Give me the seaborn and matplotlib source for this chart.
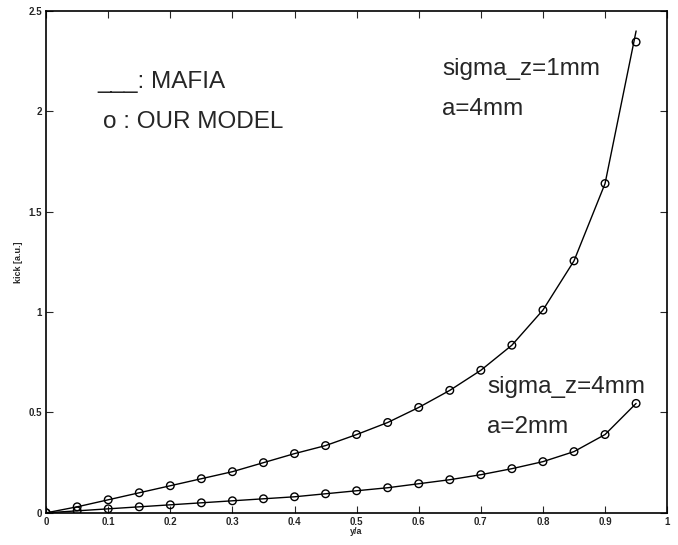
import matplotlib
matplotlib.use("Agg")
import matplotlib.pyplot as plt
import seaborn as sns
import pandas as pd

# y/a sample positions
y_over_a = [0.0, 0.05, 0.1, 0.15, 0.2, 0.25, 0.3, 0.35, 0.4, 0.45, 0.5,
            0.55, 0.6, 0.65, 0.7, 0.75, 0.8, 0.85, 0.9, 0.95]

# sigma_z=1mm, a=4mm
mafia_1mm = [0.0, 0.03, 0.065, 0.10, 0.135, 0.17, 0.205, 0.25, 0.295, 0.335, 0.39,
             0.45, 0.525, 0.61, 0.71, 0.835, 1.01, 1.255, 1.64, 2.40]
model_1mm = [0.0, 0.03, 0.065, 0.10, 0.135, 0.17, 0.205, 0.25, 0.295, 0.335, 0.39,
             0.45, 0.525, 0.61, 0.71, 0.835, 1.01, 1.255, 1.64, 2.345]

# sigma_z=4mm, a=2mm
mafia_4mm = [0.0, 0.01, 0.02, 0.03, 0.04, 0.05, 0.06, 0.07, 0.08, 0.095, 0.11,
             0.125, 0.145, 0.165, 0.19, 0.22, 0.255, 0.305, 0.39, 0.545]
model_4mm = [0.0, 0.01, 0.02, 0.03, 0.04, 0.05, 0.06, 0.07, 0.08, 0.095, 0.11,
             0.125, 0.145, 0.165, 0.19, 0.22, 0.255, 0.305, 0.39, 0.545]

x_ticks = [0, 0.1, 0.2, 0.3, 0.4, 0.5, 0.6, 0.7, 0.8, 0.9, 1]
x_tick_labels = ["0", "0.1", "0.2", "0.3", "0.4", "0.5", "0.6", "0.7", "0.8", "0.9", "1"]
y_ticks = [0, 0.5, 1, 1.5, 2, 2.5]
y_tick_labels = ["0", "0.5", "1", "1.5", "2", "2.5"]

sns.set_style("ticks")
plt.rcParams["font.family"] = ["Liberation Sans", "DejaVu Sans"]

df = pd.DataFrame({
    "y/a": y_over_a * 2,
    "mafia": mafia_1mm + mafia_4mm,
    "model": model_1mm + model_4mm,
    "case": ["1mm"] * len(y_over_a) + ["4mm"] * len(y_over_a),
})

fig = plt.figure(figsize=(6.78, 5.45), dpi=100)
ax = fig.add_axes([0.068, 0.059, 0.916, 0.921])

sns.lineplot(data=df, x="y/a", y="mafia", units="case", estimator=None,
             color="black", linewidth=1.0, ax=ax, legend=False)
sns.scatterplot(data=df, x="y/a", y="model", marker="o", s=30,
                facecolor="none", edgecolor="black", linewidth=1.0,
                ax=ax, legend=False)

ax.set_xlim(0, 1)
ax.set_ylim(0, 2.5)
ax.set_xticks(x_ticks)
ax.set_xticklabels(x_tick_labels, fontsize=7, fontweight="bold")
ax.set_yticks(y_ticks)
ax.set_yticklabels(y_tick_labels, fontsize=7, fontweight="bold")
ax.tick_params(direction="in", length=5, width=0.8, top=True, right=True, pad=3)
for side in ax.spines.values():
    side.set_linewidth(1.2)
    side.set_color("black")

ax.set_xlabel("y/a", fontsize=6.5, fontweight="bold", labelpad=0)
ax.set_ylabel("kick [a.u.]", fontsize=6.5, fontweight="bold", labelpad=4)

fs = 17.5
ax.text(0.082, 2.117, "___: MAFIA", fontsize=fs, ha="left", va="baseline")
ax.text(0.092, 1.917, "o : OUR MODEL", fontsize=fs, ha="left", va="baseline")
ax.text(0.638, 2.18, "sigma_z=1mm", fontsize=fs, ha="left", va="baseline")
ax.text(0.638, 1.98, "a=4mm", fontsize=fs, ha="left", va="baseline")
ax.text(0.71, 0.598, "sigma_z=4mm", fontsize=fs, ha="left", va="baseline")
ax.text(0.71, 0.40, "a=2mm", fontsize=fs, ha="left", va="baseline")

fig.savefig("out.png", dpi=100)
